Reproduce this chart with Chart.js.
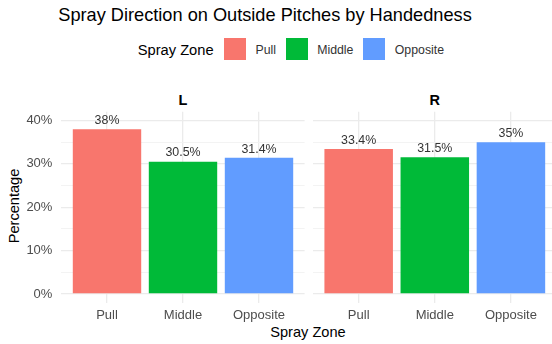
<!DOCTYPE html>
<html>
<head>
<meta charset="utf-8">
<script src="https://cdn.jsdelivr.net/npm/chart.js@4"></script>
<style>
  html, body { margin: 0; padding: 0; background: #fff; }
  body { width: 552px; height: 344px; position: relative; overflow: hidden; font-family: "Liberation Sans", Arial, sans-serif; color: #000; }
  .txt { position: absolute; line-height: 1; white-space: nowrap; transform: translate(-50%, -50%); }
  .lft { position: absolute; line-height: 1; white-space: nowrap; transform: translate(0, -50%); }
  .key { position: absolute; width: 22px; height: 22px; }
  .panel { position: absolute; top: 0; height: 344px; }
</style>
</head>
<body>
<div class="txt" style="left:265px; top:14.5px; font-size:18.2px;">Spray Direction on Outside Pitches by Handedness</div>
<div class="lft" style="left:137.7px; top:49.5px; font-size:14.7px;">Spray Zone</div>
<div id="legend"></div>

<div class="txt" id="facetL" style="left:183px; top:100px; font-size:14.5px; font-weight:bold;"></div>
<div class="txt" id="facetR" style="left:434.8px; top:100px; font-size:14.5px; font-weight:bold;"></div>

<div class="txt" style="left:13.5px; top:205.5px; font-size:14.6px; transform:translate(-50%,-50%) rotate(-90deg);">Percentage</div>
<div class="txt" style="left:308px; top:331.7px; font-size:14.6px;">Spray Zone</div>

<div class="panel" style="left:0; width:305px;"><canvas id="chartL"></canvas></div>
<div class="panel" style="left:305px; width:252px;"><canvas id="chartR"></canvas></div>

<script>
// data
const zones = ['Pull', 'Middle', 'Opposite'];
const facets = ['L', 'R'];
const pctL = [38, 30.5, 31.4];
const pctR = [33.4, 31.5, 35];
const zoneColors = ['#F8766D', '#00BA38', '#619CFF'];
const yBreaks = [0, 10, 20, 30, 40];
const yMinorBreaks = [5, 15, 25, 35];

Chart.defaults.font.family = '"Liberation Sans", Arial, sans-serif';

// legend keys
const legendX = [224, 285.7, 363.3];
const legend = document.getElementById('legend');
zones.forEach((z, i) => {
    const key = document.createElement('div');
    key.className = 'key';
    key.style.left = legendX[i] + 'px';
    key.style.top = '38px';
    key.style.background = zoneColors[i];
    legend.appendChild(key);
    const lab = document.createElement('div');
    lab.className = 'lft';
    lab.style.left = (legendX[i] + 31.5) + 'px';
    lab.style.top = '49.5px';
    lab.style.fontSize = '12.3px';
    lab.style.color = '#333';
    lab.textContent = z;
    legend.appendChild(lab);
});
document.getElementById('facetL').textContent = facets[0];
document.getElementById('facetR').textContent = facets[1];

// text above each bar, placed at value + 2 like the original
const valueLabels = {
    id: 'valueLabels',
    afterDatasetsDraw(chart) {
        const ctx = chart.ctx;
        const yScale = chart.scales.y;
        const meta = chart.getDatasetMeta(0);
        ctx.save();
        ctx.font = '12.4px "Liberation Sans", Arial, sans-serif';
        ctx.fillStyle = '#333';
        ctx.textAlign = 'center';
        ctx.textBaseline = 'middle';
        meta.data.forEach((bar, i) => {
            const v = chart.data.datasets[0].data[i].y;
            ctx.fillText(v + '%', bar.x, yScale.getPixelForValue(v + 2));
        });
        ctx.restore();
    }
};

function makePanel(id, values, showY, padLeft) {
    const allBreaks = yBreaks.concat(yMinorBreaks).sort((a, b) => a - b);
    return new Chart(document.getElementById(id), {
        type: 'bar',
        data: {
            datasets: [{
                data: values.map((v, i) => ({x: i + 1, y: v})),
                backgroundColor: zoneColors,
                borderWidth: 0,
                barPercentage: 0.9,
                categoryPercentage: 1
            }]
        },
        options: {
            responsive: true,
            maintainAspectRatio: false,
            animation: false,
            layout: {padding: {left: padLeft, top: 111.8, right: 0.4, bottom: 0}},
            plugins: {legend: {display: false}, tooltip: {enabled: false}},
            scales: {
                x: {
                    type: 'linear',
                    min: 0.4,
                    max: 3.6,
                    offset: false,
                    afterBuildTicks: s => { s.ticks = zones.map((z, i) => ({value: i + 1})); },
                    afterFit: s => { s.height = 41.3; },
                    grid: {color: '#EBEBEB', lineWidth: 1.3, drawTicks: false, offset: false},
                    border: {display: false},
                    ticks: {
                        padding: 5,
                        color: '#4D4D4D',
                        font: {size: 13},
                        maxRotation: 0,
                        autoSkip: false,
                        callback: v => zones[v - 1]
                    }
                },
                y: {
                    min: -2,
                    max: 42,
                    afterBuildTicks: s => { s.ticks = allBreaks.map(v => ({value: v})); },
                    afterFit: s => { s.width = showY ? 61.4 : 0; },
                    grid: {
                        color: c => yBreaks.includes(c.tick.value) ? '#EBEBEB' : '#F2F2F2',
                        lineWidth: c => yBreaks.includes(c.tick.value) ? 1.3 : 0.9,
                        drawTicks: false
                    },
                    border: {display: false},
                    ticks: {
                        display: showY,
                        padding: 9,
                        color: '#4D4D4D',
                        font: {size: 13},
                        callback: v => yBreaks.includes(v) ? v + '%' : ''
                    }
                }
            }
        },
        plugins: [valueLabels]
    });
}

makePanel('chartL', pctL, true, 0);
makePanel('chartR', pctR, false, 8);
</script>
</body>
</html>
